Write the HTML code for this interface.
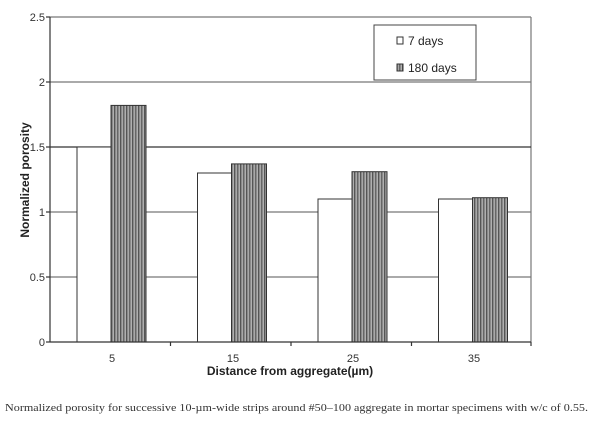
<!DOCTYPE html>
<html><head><meta charset="utf-8"><style>
html,body{margin:0;padding:0;background:#fff;}
svg{display:block}
</style></head><body>
<svg width="607" height="437" viewBox="0 0 607 437" xmlns="http://www.w3.org/2000/svg">
<defs>
<pattern id="st" width="6" height="10" patternUnits="userSpaceOnUse">
<rect width="6" height="10" fill="#8a8a8a"/>
<rect x="0" width="1" height="10" fill="#555"/>
<rect x="2" width="1" height="10" fill="#a8a8a8"/>
<rect x="3" width="1" height="10" fill="#666"/>
<rect x="5" width="1" height="10" fill="#b0b0b0"/>
</pattern>
</defs>
<g stroke="#777" stroke-width="1.2">
<line x1="50" y1="17" x2="531" y2="17"/>
<line x1="50" y1="82" x2="531" y2="82"/>
<line x1="50" y1="212" x2="531" y2="212"/>
<line x1="50" y1="277" x2="531" y2="277"/>
<line x1="531" y1="17" x2="531" y2="342"/>
</g>
<line x1="50" y1="147" x2="531" y2="147" stroke="#333" stroke-width="1.2"/>
<g stroke="#333" stroke-width="1">
<rect x="77" y="147" width="34" height="195" fill="#fff"/>
<rect x="111" y="105.4" width="35" height="236.6" fill="url(#st)"/>
<rect x="197.5" y="173" width="34" height="169" fill="#fff"/>
<rect x="231.5" y="163.9" width="35" height="178.1" fill="url(#st)"/>
<rect x="318" y="199" width="34" height="143" fill="#fff"/>
<rect x="352" y="171.7" width="35" height="170.3" fill="url(#st)"/>
<rect x="438.5" y="199" width="34" height="143" fill="#fff"/>
<rect x="472.5" y="197.7" width="35" height="144.3" fill="url(#st)"/>
</g>
<g stroke="#333" stroke-width="1.2">
<line x1="50" y1="17" x2="50" y2="342"/>
<line x1="50" y1="342" x2="531" y2="342"/>
<line x1="46" y1="17" x2="50" y2="17"/><line x1="46" y1="82" x2="50" y2="82"/>
<line x1="46" y1="147" x2="50" y2="147"/><line x1="46" y1="212" x2="50" y2="212"/>
<line x1="46" y1="277" x2="50" y2="277"/><line x1="46" y1="342" x2="50" y2="342"/>
<line x1="170.5" y1="342" x2="170.5" y2="346"/><line x1="291" y1="342" x2="291" y2="346"/>
<line x1="411.5" y1="342" x2="411.5" y2="346"/><line x1="531" y1="342" x2="531" y2="346"/>
</g>
<g font-family="Liberation Sans, sans-serif" font-size="11" fill="#333" text-anchor="end">
<text x="45" y="21">2.5</text><text x="45" y="86">2</text><text x="45" y="151">1.5</text>
<text x="45" y="216">1</text><text x="45" y="281">0.5</text><text x="45" y="346">0</text>
</g>
<g font-family="Liberation Sans, sans-serif" font-size="11" fill="#333" text-anchor="middle">
<text x="112" y="362">5</text><text x="233" y="362">15</text><text x="353" y="362">25</text><text x="474" y="362">35</text>
</g>
<text x="290" y="375" font-family="Liberation Sans, sans-serif" font-size="12" font-weight="bold" fill="#222" text-anchor="middle">Distance from aggregate(µm)</text>
<text transform="translate(29,180) rotate(-90)" font-family="Liberation Sans, sans-serif" font-size="12" font-weight="bold" fill="#222" text-anchor="middle">Normalized porosity</text>
<rect x="374" y="25" width="102" height="55" fill="#fff" stroke="#444" stroke-width="1"/>
<rect x="397" y="37" width="6" height="7" fill="#fff" stroke="#333"/>
<rect x="397" y="64" width="6" height="7" fill="url(#st)" stroke="#333"/>
<g font-family="Liberation Sans, sans-serif" font-size="12" fill="#222">
<text x="408" y="45">7 days</text><text x="408" y="72">180 days</text>
</g>
<text x="5" y="411" font-family="Liberation Serif, serif" font-size="11" fill="#333" textLength="583" lengthAdjust="spacingAndGlyphs">Normalized porosity for successive 10-µm-wide strips around #50–100 aggregate in mortar specimens with w/c of 0.55.</text>
</svg>
</body></html>
